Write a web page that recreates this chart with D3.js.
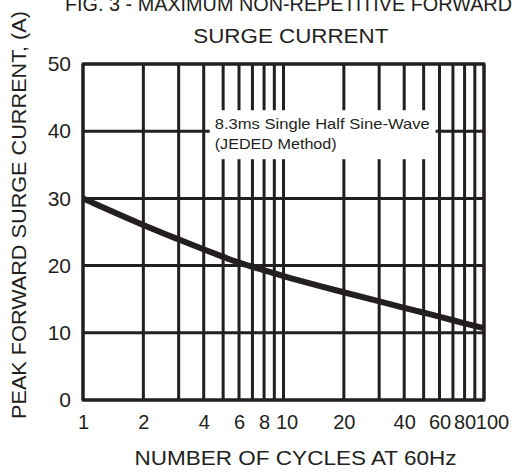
<!DOCTYPE html>
<html><head><meta charset="utf-8">
<script src="https://cdn.jsdelivr.net/npm/d3@7"></script>
<style>html,body{margin:0;padding:0;background:#fff;}svg{display:block;}</style>
</head><body>
<script>
const cycles  = [1, 2, 3, 4, 5, 6, 8, 10, 20, 30, 40, 50, 60, 80, 100];
const current = [30.0, 26.0, 23.9, 22.4, 21.3, 20.4, 19.3, 18.4, 16.0, 14.7, 13.7, 13.0, 12.4, 11.4, 10.7];
const xGrid = [1,2,3,4,5,6,7,8,9,10,20,30,40,50,60,70,80,90,100];
const xTickLabels = [1,2,4,6,8,10,20,40,60,80,100];
const yTicks = [0,10,20,30,40,50];
const titleLines = ["FIG. 3 - MAXIMUM NON-REPETITIVE FORWARD", "SURGE CURRENT"];
const xTitle = "NUMBER OF CYCLES AT 60Hz";
const yTitle = "PEAK FORWARD SURGE CURRENT, (A)";
const noteLines = ["8.3ms Single Half Sine-Wave", "(JEDED Method)"];

const W = 519, H = 472, ink = "#231f20", font = "Arial, 'Liberation Sans', sans-serif";
const m = {l: 83, r: 484, t: 64, b: 400};
const svg = d3.select("body").append("svg").attr("width", W).attr("height", H)
  .style("font-family", font);

const x = d3.scaleLog().domain([1, 100]).range([m.l, m.r]);
const y = d3.scaleLinear().domain([0, 50]).range([m.b, m.t]);

// grid
const g = svg.append("g");
g.selectAll(".vg").data(xGrid).join("line")
  .attr("x1", d => x(d)).attr("x2", d => x(d)).attr("y1", m.t).attr("y2", m.b)
  .attr("stroke", ink).attr("stroke-width", 3);
g.selectAll(".hg").data(yTicks).join("line")
  .attr("x1", m.l).attr("x2", m.r).attr("y1", d => y(d)).attr("y2", d => y(d))
  .attr("stroke", ink).attr("stroke-width", 3);
g.append("rect").attr("x", m.l).attr("y", m.t).attr("width", m.r - m.l).attr("height", m.b - m.t)
  .attr("fill", "none").attr("stroke", ink).attr("stroke-width", 3);

// note box
const bx0 = x(4) + 6, bx1 = x(60) - 4;
g.append("rect").attr("x", bx0).attr("y", y(40) - 21).attr("width", bx1 - bx0).attr("height", 49)
  .attr("fill", "#fff");
svg.append("g").selectAll("text").data(noteLines).join("text")
  .attr("x", bx0 + 5).attr("y", (d, i) => y(40) - 2 + i * 20)
  .attr("font-size", 15).attr("fill", ink)
  .attr("textLength", (d, i) => i === 0 ? 215 : 122).attr("lengthAdjust", "spacingAndGlyphs")
  .text(d => d);

// curve
const line = d3.line().x((d, i) => x(cycles[i])).y(d => y(d)).curve(d3.curveBasis);
svg.append("path").datum(current).attr("d", line)
  .attr("fill", "none").attr("stroke", ink).attr("stroke-width", 6).attr("stroke-linecap", "butt");

// axes labels
const xAxis = d3.axisBottom(x).tickValues(xTickLabels).tickFormat(d3.format("d")).tickSize(0).tickPadding(15);
const xa = svg.append("g").attr("transform", `translate(0,${m.b})`).call(xAxis);
xa.select(".domain").remove();
xa.selectAll("text").attr("font-size", 20).attr("fill", ink).attr("font-family", font)
  .attr("dx", d => d === 100 ? 8 : d === 10 ? 3 : 0);

const yAxis = d3.axisLeft(y).tickValues(yTicks).tickSize(0).tickPadding(12);
const ya = svg.append("g").attr("transform", `translate(${m.l},0)`).call(yAxis);
ya.select(".domain").remove();
ya.selectAll("text").attr("font-size", 21).attr("fill", ink).attr("font-family", font);

svg.append("text").attr("x", 295.5).attr("y", 465).attr("text-anchor", "middle")
  .attr("font-size", 21).attr("fill", ink)
  .attr("textLength", 322).attr("lengthAdjust", "spacingAndGlyphs").text(xTitle);
svg.append("text").attr("transform", `translate(26,215) rotate(-90)`)
  .attr("text-anchor", "middle").attr("font-size", 21).attr("fill", ink)
  .attr("textLength", 408).attr("lengthAdjust", "spacingAndGlyphs").text(yTitle);
svg.selectAll(".title").data(titleLines).join("text")
  .attr("x", (d, i) => i === 0 ? 288.5 : 290.8).attr("y", (d, i) => i === 0 ? 10.5 : 43.3)
  .attr("text-anchor", "middle")
  .attr("font-size", 21).attr("fill", ink)
  .attr("textLength", (d, i) => i === 0 ? 447 : 195).attr("lengthAdjust", "spacingAndGlyphs")
  .text(d => d);
</script>
</body></html>
